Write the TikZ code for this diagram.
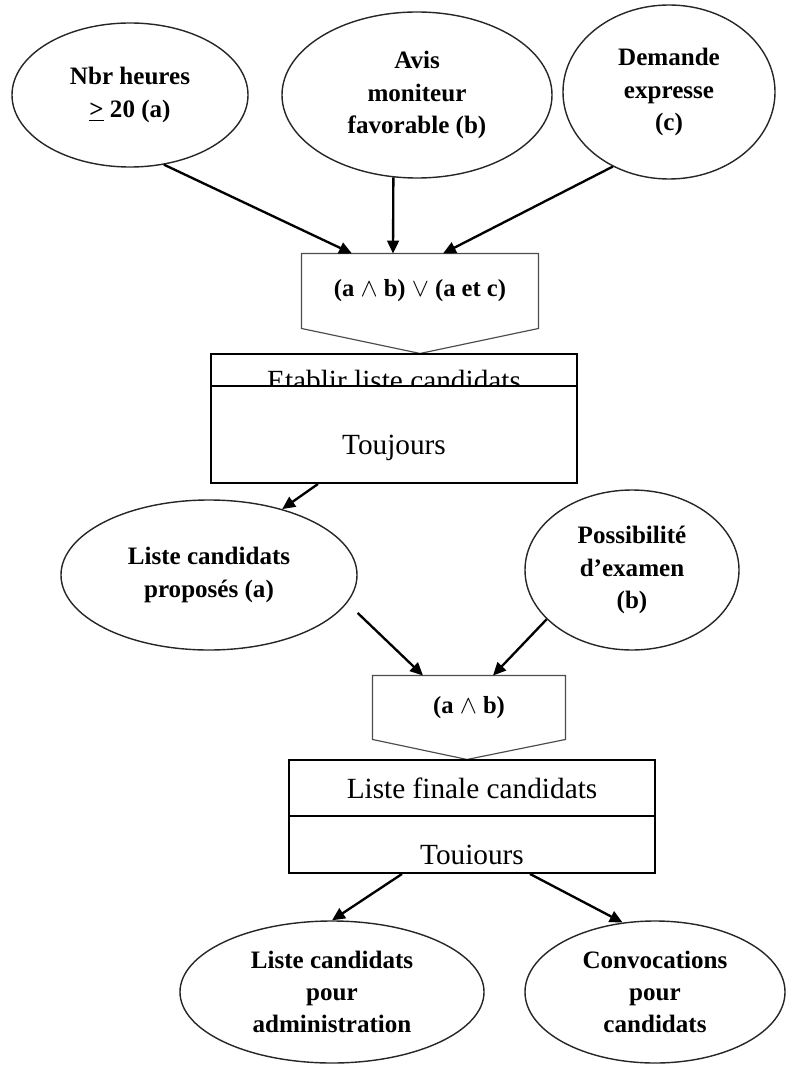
\documentclass[tikz,border=0pt]{standalone}
\usepackage{fontspec}
\setmainfont{Liberation Serif}
\usepackage{tikz}
\usetikzlibrary{shapes.geometric,arrows.meta,positioning,calc}

\begin{document}
\begin{tikzpicture}[
  x=0.015cm, y=-0.015cm,
  bubble/.style={
    ellipse, draw=black!85, line width=0.6pt,
    inner sep=0, align=center,
    font=\fontsize{10.7}{13.7}\selectfont\bfseries
  },
  gate/.style={
    rectangle, inner sep=0, align=center,
    font=\fontsize{10.5}{13}\selectfont\bfseries
  },
  gateline/.style={draw=black!70, line width=0.5pt},
  task/.style={rectangle, draw, line width=0.8pt, inner sep=0},
  tasktext/.style={font=\fontsize{12.5}{15}\selectfont, inner sep=0},
  arr/.style={-{Triangle[length=5.5pt,width=5pt]}, line width=1pt},
]
\useasboundingbox (0,0) rectangle (793,1068);
% Conditions
\node[bubble,minimum width=3.54cm,minimum height=2.16cm] (A) at (130,95) {Nbr heures\\\underline{>} 20 (a)};
\node[bubble,minimum width=4.05cm,minimum height=2.49cm] (B) at (417,95) {Avis\\moniteur\\favorable (b)};
\node[bubble,minimum width=3.18cm,minimum height=2.61cm] (C) at (669,92) {Demande\\expresse\\(c)};
% First gate
\node[gate,minimum width=3.54cm,minimum height=1.11cm] (P1) at (420,291) {(a $\wedge$ b) $\vee$ (a et c)};
\draw[gateline] (P1.north west) -- (P1.north east) -- (P1.south east)
  -- ($(P1.south)+(0,25)$) -- (P1.south west) -- cycle;
% First task
\node[task,minimum width=5.49cm,minimum height=1.935cm] (T1) at (394,418.5) {};
\begin{scope}
  \clip (T1.north west) rectangle ($(T1.north east)+(0,33)$);
  \node[tasktext,anchor=base] (T1a) at (394,390) {Etablir liste candidats};
\end{scope}
\draw[line width=0.8pt] ($(T1.north west)+(0,33)$) -- ($(T1.north east)+(0,33)$);
\node[tasktext] (T1b) at (394,448) {Toujours};
% Second conditions
\node[bubble,minimum width=4.44cm,minimum height=2.25cm] (D) at (209,575) {Liste candidats\\proposés (a)};
\node[bubble,minimum width=3.21cm,minimum height=2.4cm] (E) at (632,570) {Possibilité\\d'examen\\(b)};
% Second gate
\node[gate,minimum width=2.88cm,minimum height=0.945cm] (P2) at (469,707.5) {(a $\wedge$ b)};
\draw[gateline] (P2.north west) -- (P2.north east) -- (P2.south east)
  -- ($(P2.south)+(-2,20)$) -- (P2.south west) -- cycle;
% Second task
\node[task,minimum width=5.49cm,minimum height=1.695cm] (T2) at (472,816.5) {};
\draw[line width=0.8pt] ($(T2.north west)+(0,57)$) -- ($(T2.north east)+(0,57)$);
\node[tasktext] (T2a) at (472,788) {Liste finale candidats};
\node[tasktext] (T2b) at (472,855) {Touiours};
% Results
\node[bubble,minimum width=4.56cm,minimum height=2.13cm] (F) at (332,992) {Liste candidats\\pour\\administration};
\node[bubble,minimum width=3.9cm,minimum height=2.13cm] (G) at (655,992) {Convocations\\pour\\candidats};
% Arrows
\draw[arr] (A.-64) -- ($(P1.north)+(-68,0)$);
\draw[arr] (B.-106) -- ($(P1.north)+(-27,0)$);
\draw[arr] (C.-127) -- ($(P1.north)+(23,0)$);
\draw[arr] ($(T1.south)+(-76,0)$) -- (D.42);
\draw[arr] ($(D.east)+(0,38)$) -- ($(P2.north)+(-46,0)$);
\draw[arr] (E.-150) -- ($(P2.north)+(24,0)$);
\draw[arr] ($(T2.south)+(-70,0)$) -- (F.north);
\draw[arr] ($(T2.south)+(58,0)$) -- (G.115);
\end{tikzpicture}
\end{document}
